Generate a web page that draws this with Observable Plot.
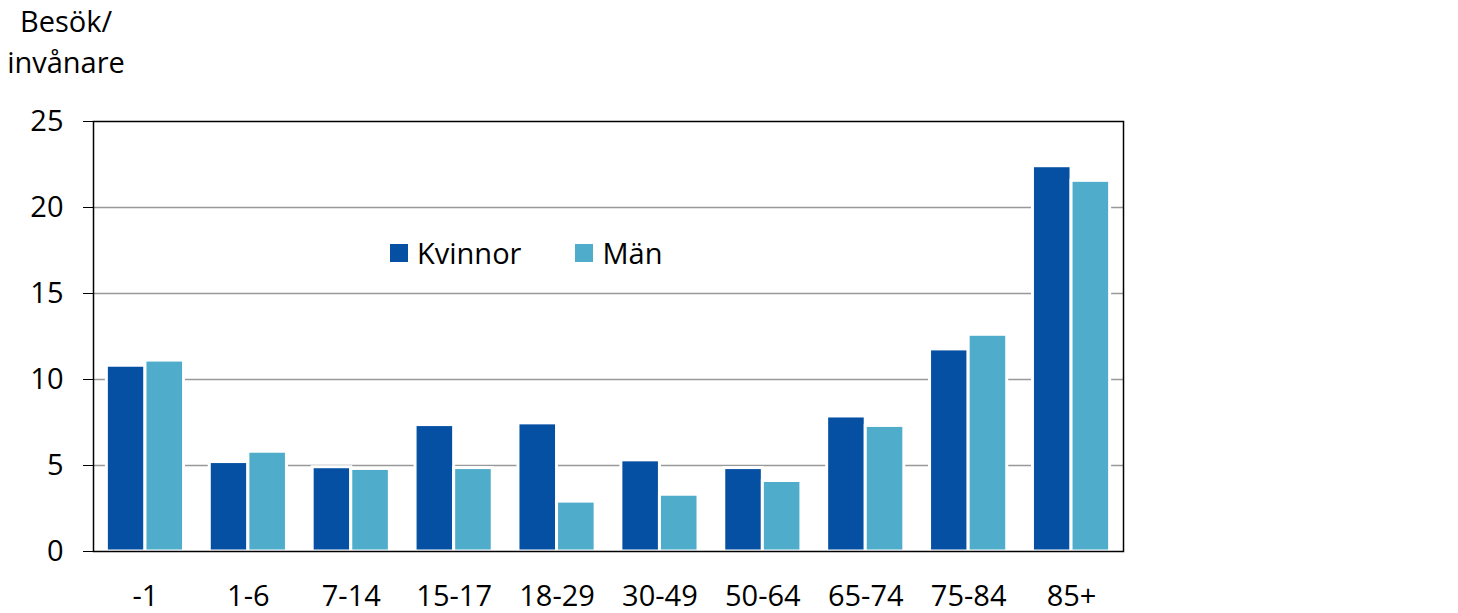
<!DOCTYPE html>
<html>
<head>
<meta charset="utf-8">
<script src="https://cdn.jsdelivr.net/npm/d3@7"></script>
<script src="https://cdn.jsdelivr.net/npm/@observablehq/plot@0.6"></script>
<style>
  html, body { margin: 0; padding: 0; background: #fff; }
  #wrap { position: relative; width: 1458px; height: 613px; font-family: "Open Sans", sans-serif; }
  #ylabel { position: absolute; left: 3px; top: 0px; width: 126px; text-align: center; font-size: 29px; line-height: 41px; color: #000; }
  #legend { position: absolute; left: 390px; top: 233px; display: flex; align-items: center; font-size: 29px; color: #000; }
  .item { display: flex; align-items: center; }
  .sw { width: 18px; height: 18px; margin-right: 9px; }
  svg text { fill: #000; }
</style>
</head>
<body>
<div id="wrap">
  <div id="ylabel">Besök/<br>invånare</div>
  <div id="legend"></div>
</div>
<script>
const ages = ["-1","1-6","7-14","15-17","18-29","30-49","50-64","65-74","75-84","85+"];
const kvinnor = [10.8, 5.2, 4.9, 7.35, 7.45, 5.3, 4.85, 7.85, 11.75, 22.4];
const man = [11.1, 5.8, 4.8, 4.85, 2.9, 3.3, 4.1, 7.3, 12.6, 21.55];
const series = ["Kvinnor", "Män"];
const colors = ["#0550A3", "#4FACCB"];
const yTicks = [0, 5, 10, 15, 20, 25];
const gridValues = [5, 10, 15, 20];

const data = [];
ages.forEach((a, i) => {
  data.push({age: a, sex: series[0], value: kvinnor[i]});
  data.push({age: a, sex: series[1], value: man[i]});
});

const half = 38.6;
const chart = Plot.plot({
  width: 1458,
  height: 613,
  marginLeft: 93,
  marginRight: 335,
  marginTop: 121,
  marginBottom: 62,
  style: {fontFamily: "Open Sans, sans-serif", fontSize: "29px", color: "#000", background: "transparent"},
  x: {domain: ages, paddingInner: 0.25, paddingOuter: 0.13, round: false, label: null, tickSize: 0, tickPadding: 34},
  y: {domain: [0, 25], ticks: yTicks, label: null, tickSize: 10, tickPadding: 20},
  color: {domain: series, range: colors},
  marks: [
    Plot.ruleY(gridValues, {stroke: "#999", strokeWidth: 1.5}),
    Plot.barY(data.filter(d => d.sex === series[0]), {x: "age", y: "value", fill: "sex", stroke: "white", strokeWidth: 3, insetRight: half}),
    Plot.barY(data.filter(d => d.sex === series[1]), {x: "age", y: "value", fill: "sex", stroke: "white", strokeWidth: 3, insetLeft: half}),
    Plot.frame({stroke: "#000", strokeWidth: 1.5})
  ]
});
document.getElementById("wrap").appendChild(chart);
chart.style.position = "absolute";
chart.style.left = "0px";
chart.style.top = "0px";

const legend = document.getElementById("legend");
series.forEach((s, i) => {
  const item = document.createElement("div");
  item.className = "item";
  if (i > 0) item.style.marginLeft = "54px";
  const sw = document.createElement("div");
  sw.className = "sw";
  sw.style.background = colors[i];
  const t = document.createElement("span");
  t.textContent = s;
  item.appendChild(sw);
  item.appendChild(t);
  legend.appendChild(item);
});
document.getElementById("wrap").appendChild(legend);
document.getElementById("wrap").appendChild(document.getElementById("ylabel"));
</script>
</body>
</html>
